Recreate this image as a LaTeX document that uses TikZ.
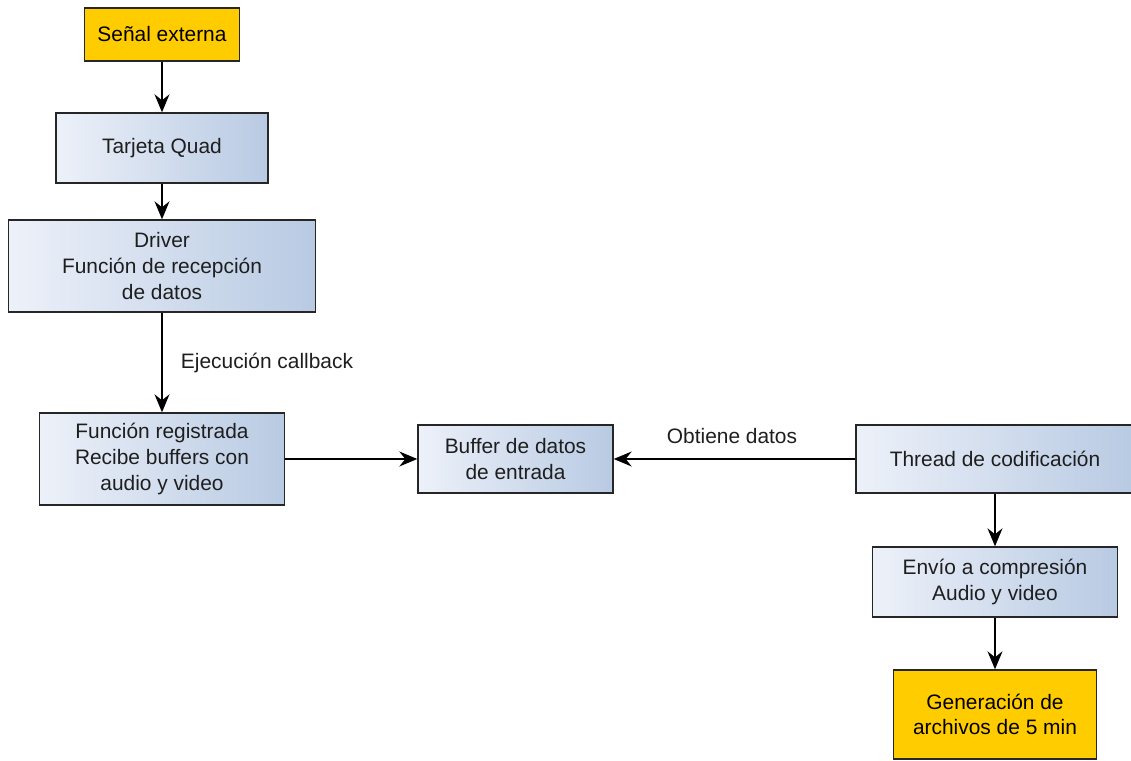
\documentclass[tikz,border=0pt]{standalone}
\usepackage{fontspec}
\setmainfont{Liberation Sans}
\usepackage{xcolor}
\usepackage{tikz}
\usetikzlibrary{calc,arrows.meta}
\definecolor{bg}{HTML}{FFFFFF}
\definecolor{frame}{HTML}{262626}
\definecolor{text}{HTML}{1E1E1E}
\definecolor{gold}{HTML}{FFCC00}
\definecolor{paleblue}{HTML}{EDF1F9}
\definecolor{steelblue}{HTML}{B8CAE3}
\tikzset{
  box/.style={draw=frame, line width=0.8pt, left color=paleblue, right color=steelblue,
    text=text, font=\fontsize{11.9}{14.6}\selectfont, align=center, inner sep=0pt},
  term/.style={draw=frame, line width=0.8pt, fill=gold, text=black,
    font=\fontsize{11.9}{14.6}\selectfont, align=center, inner sep=0pt},
  flow/.style={draw=black, line width=0.7pt, -{Stealth[length=0.36cm,width=0.3cm,inset=0.12cm]}},
  lab/.style={text=text, font=\fontsize{11.9}{14.6}\selectfont},
}

\begin{document}
\begin{tikzpicture}
  \fill[bg] (0,0) rectangle (22.62,-15.22);
  \useasboundingbox (0,0) rectangle (22.62,-15.22);
  % left column
  \node[term, minimum width=3.1cm, minimum height=1.06cm] (senal) at (3.24,-0.69) {Señal externa};
  \node[box, minimum width=4.24cm, minimum height=1.4cm] (tarjeta) at (3.24,-2.96) {Tarjeta Quad};
  \node[box, minimum width=6.14cm, minimum height=1.84cm] (driver) at (3.24,-5.32)
    {Driver\\Función de recepción\\de datos};
  \node[box, minimum width=4.9cm, minimum height=1.84cm] (funcion) at (3.24,-9.18)
    {Función registrada\\Recibe buffers con\\audio y video};
  % middle
  \node[box, minimum width=3.9cm, minimum height=1.36cm] (buffer) at (10.31,-9.18)
    {Buffer de datos\\de entrada};
  % right column
  \node[box, minimum width=5.56cm, minimum height=1.36cm] (thread) at (19.9,-9.18) {Thread de codificación};
  \node[box, minimum width=4.9cm, minimum height=1.4cm] (envio) at (19.9,-11.64)
    {Envío a compresión\\Audio y video};
  \node[term, minimum width=4.06cm, minimum height=1.78cm] (generacion) at (19.9,-14.29)
    {Generación de\\archivos de 5 min};
  % labels
  \node[lab] (ejec) at (5.34,-7.26) {Ejecución callback};
  \node[lab] (obtiene) at (14.64,-8.72) {Obtiene datos};
  % connectors
  \draw[flow] (senal) -- (tarjeta);
  \draw[flow] (tarjeta) -- (driver);
  \draw[flow] (driver) -- (funcion);
  \draw[flow] (funcion) -- (buffer);
  \draw[flow] (thread) -- (buffer);
  \draw[flow] (thread) -- (envio);
  \draw[flow] (envio) -- (generacion);
\end{tikzpicture}
\end{document}
